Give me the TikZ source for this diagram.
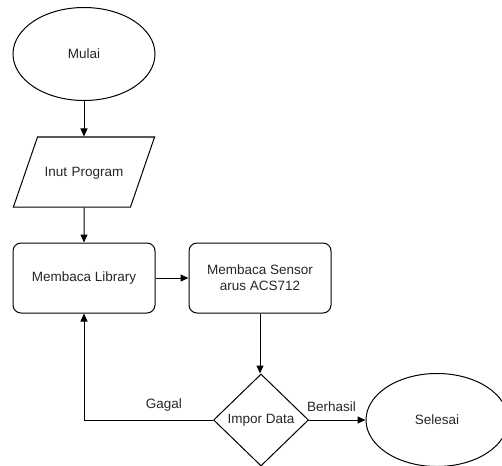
\documentclass[tikz,border=0pt]{standalone}
\usepackage{fontspec}
\setmainfont{Liberation Sans}
\usetikzlibrary{arrows.meta,positioning,shapes.geometric}

\begin{document}
\begin{tikzpicture}[x=1pt, y=-1pt,
  every node/.style={font=\fontsize{13.5}{16}\selectfont, text=black!85},
  block/.style={draw, line width=1pt, minimum width=142pt, minimum height=70pt,
    align=center, rounded corners=8pt},
  terminal/.style={draw, line width=1pt, ellipse, minimum width=142pt, minimum height=93pt, inner sep=0pt},
  io/.style={draw, line width=1pt, trapezium, trapezium left angle=71, trapezium right angle=109,
    text width=93pt, align=center, text height=39.8pt, text depth=30.2pt, inner sep=0pt},
  decision/.style={draw, line width=1pt, diamond, minimum width=95pt, minimum height=92pt, inner sep=0pt},
  arrow/.style={-{Stealth[length=8pt, width=7pt, inset=0pt]}, line width=1pt}
]
\clip (0,0) rectangle (502,465);

% Blocks
\node[terminal] (mulai) at (84,54) {Mulai};
\node[io] (input) at (84,172) {Inut Program};
\node[block] (library) at (84,278) {Membaca Library};
\node[block] (sensor) at (260,278) {Membaca Sensor\\arus ACS712};
\node[decision] (impor) at (261,420) {Impor Data};
\node[terminal] (selesai) at (437,420) {Selesai};

% Arrows
\draw[arrow] (mulai) -- (input);
\draw[arrow] (input) -- (library);
\draw[arrow] (library) -- (sensor);
\draw[arrow] (sensor.south) -- (sensor.south |- impor.north);
\draw[arrow] (impor.west) -| node[pos=0.19, above=5pt] {Gagal} (library.south);
\draw[arrow] (impor.east) -- node[pos=0.4, above=5pt] {Berhasil} (selesai);

\end{tikzpicture}
\end{document}
